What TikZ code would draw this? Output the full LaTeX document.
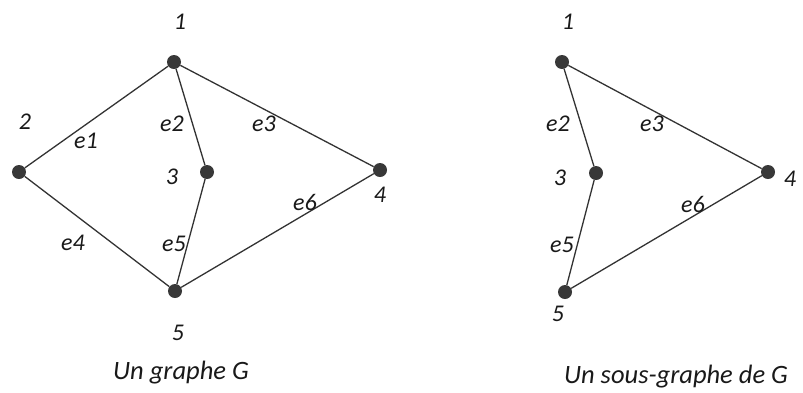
\documentclass[tikz,border=0pt]{standalone}
\usepackage{fontspec}
\setmainfont{Carlito}
\usetikzlibrary{calc}

\tikzset{
  sommet/.style={circle, fill=black!78, inner sep=0pt, minimum size=14pt},
  arete/.style={line width=1.3pt, black!80},
  lbl/.style={font=\fontsize{24}{27}\selectfont\itshape, text=black!90, inner sep=0pt},
  titre/.style={font=\fontsize{26.5}{30}\selectfont\itshape, text=black!90, inner sep=0pt}
}

\begin{document}
\begin{tikzpicture}[x=1pt, y=-1pt]
  \useasboundingbox (0,0) rectangle (803,392);

  % graphe G
  \node[sommet] (A1) at (174,62) {};
  \node[sommet] (A2) at (19,172) {};
  \node[sommet] (A3) at (207,172) {};
  \node[sommet] (A4) at (380,170) {};
  \node[sommet] (A5) at (175,291) {};

  \draw[arete] (A1) -- (A2);
  \draw[arete] (A1) -- (A3);
  \draw[arete] (A1) -- (A4);
  \draw[arete] (A2) -- (A5);
  \draw[arete] (A3) -- (A5);
  \draw[arete] (A4) -- (A5);

  \node[lbl] (n1) at (180,22) {1};
  \node[lbl] (n2) at (25,122) {2};
  \node[lbl] (n3) at (172,177) {3};
  \node[lbl] (n4) at (380,195) {4};
  \node[lbl] (n5) at (178,333) {5};

  \node[lbl] (e1) at (86,141) {e1};
  \node[lbl] (e2) at (172,124) {e2};
  \node[lbl] (e3) at (264,124) {e3};
  \node[lbl] (e4) at (73,243) {e4};
  \node[lbl] (e5) at (174,244) {e5};
  \node[lbl] (e6) at (305,202) {e6};

  \node[titre] (tG) at (181,373) {Un graphe G};

  % sous-graphe
  \node[sommet] (B1) at (562,62) {};
  \node[sommet] (B3) at (596,173) {};
  \node[sommet] (B4) at (768,172) {};
  \node[sommet] (B5) at (565,292) {};

  \draw[arete] (B1) -- (B3);
  \draw[arete] (B1) -- (B4);
  \draw[arete] (B3) -- (B5);
  \draw[arete] (B4) -- (B5);

  \node[lbl] (m1) at (568,22) {1};
  \node[lbl] (m3) at (560,178) {3};
  \node[lbl] (m4) at (790,179) {4};
  \node[lbl] (m5) at (558,314) {5};

  \node[lbl] (f2) at (558,124) {e2};
  \node[lbl] (f3) at (652,124) {e3};
  \node[lbl] (f5) at (562,245) {e5};
  \node[lbl] (f6) at (693,204) {e6};

  \node[titre] (tS) at (676,377) {Un sous-graphe de G};
\end{tikzpicture}
\end{document}
